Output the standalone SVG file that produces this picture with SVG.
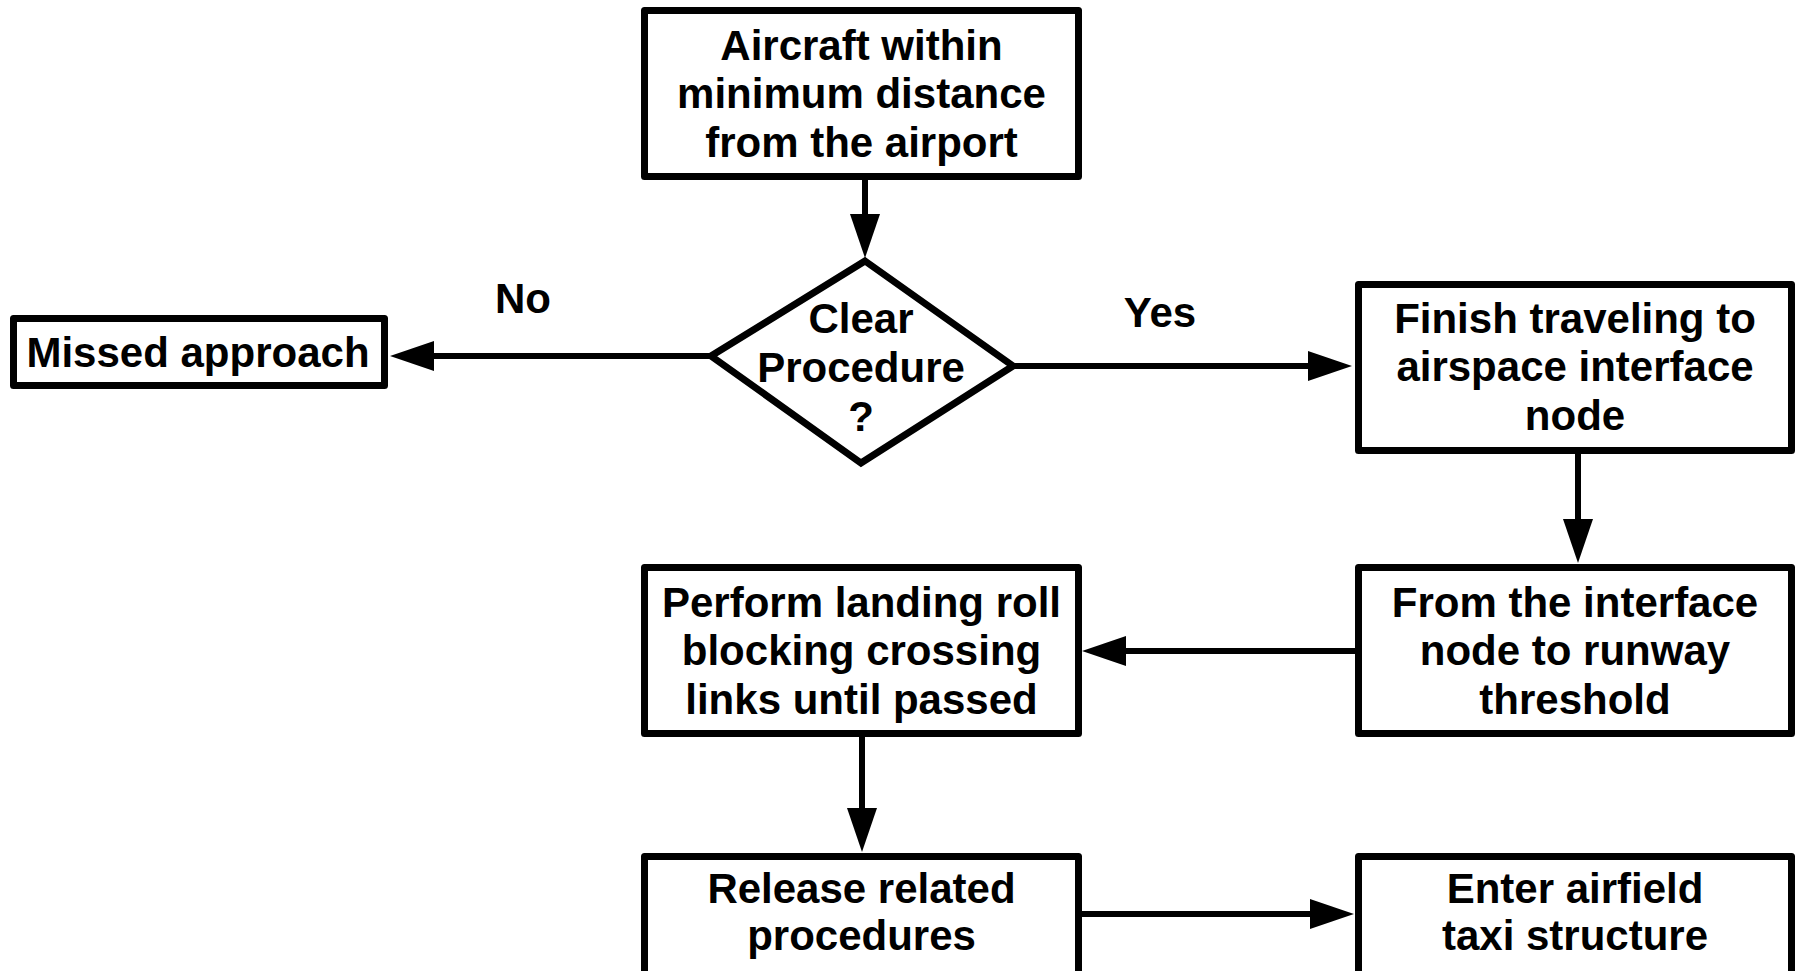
<svg xmlns="http://www.w3.org/2000/svg" width="1796" height="971" viewBox="0 0 1796 971">
<style>
.box{fill:#fff;stroke:#000;stroke-width:7;stroke-linejoin:round}
.dia{fill:#fff;stroke:#000;stroke-width:7;stroke-linejoin:miter}
.t{font-family:"Liberation Sans",Arial,sans-serif;font-weight:bold;font-size:42px;fill:#000;text-anchor:middle}
.c{fill:none;stroke:#000;stroke-width:6}
</style>
<defs>
<marker id="ah" markerUnits="userSpaceOnUse" markerWidth="46" markerHeight="32" refX="0" refY="15" orient="auto" overflow="visible">
<path d="M0,0 L44,15 L0,30 Z" fill="#000"/>
</marker>
</defs>
<rect width="1796" height="971" fill="#fff"/>
<g id="connectors">
<path class="c" d="M865,180 L865,214" marker-end="url(#ah)"/>
<path class="c" d="M710,356 L434,356" marker-end="url(#ah)"/>
<path class="c" d="M1014,366 L1308,366" marker-end="url(#ah)"/>
<path class="c" d="M1578,454 L1578,519" marker-end="url(#ah)"/>
<path class="c" d="M1355,651 L1126,651" marker-end="url(#ah)"/>
<path class="c" d="M862,737 L862,808" marker-end="url(#ah)"/>
<path class="c" d="M1082,914 L1310,914" marker-end="url(#ah)"/>
<text class="t" x="523" y="313">No</text>
<text class="t" x="1160" y="327">Yes</text>
</g>
<g id="start">
<rect class="box" x="644.5" y="10.5" width="434" height="166"/>
<text class="t" x="861.5" y="60">Aircraft within</text>
<text class="t" x="861.5" y="108">minimum distance</text>
<text class="t" x="861.5" y="157">from the airport</text>
</g>
<g id="decision">
<polygon class="dia" points="865,261 1013,366 861,463 711,356"/>
<text class="t" x="861" y="333">Clear</text>
<text class="t" x="861" y="382">Procedure</text>
<text class="t" x="861" y="431">?</text>
</g>
<g id="missed">
<rect class="box" x="13.5" y="318.5" width="371" height="67"/>
<text class="t" x="198" y="367">Missed approach</text>
</g>
<g id="finish">
<rect class="box" x="1358.5" y="284.5" width="433" height="166"/>
<text class="t" x="1575" y="333">Finish traveling to</text>
<text class="t" x="1575" y="381">airspace interface</text>
<text class="t" x="1575" y="430">node</text>
</g>
<g id="from">
<rect class="box" x="1358.5" y="567.5" width="433" height="166"/>
<text class="t" x="1575" y="617">From the interface</text>
<text class="t" x="1575" y="665">node to runway</text>
<text class="t" x="1575" y="714">threshold</text>
</g>
<g id="perform">
<rect class="box" x="644.5" y="567.5" width="434" height="166"/>
<text class="t" x="861.5" y="617">Perform landing roll</text>
<text class="t" x="861.5" y="665">blocking crossing</text>
<text class="t" x="861.5" y="714">links until passed</text>
</g>
<g id="release">
<rect class="box" x="644.5" y="856.5" width="434" height="166"/>
<text class="t" x="861.5" y="903">Release related</text>
<text class="t" x="861.5" y="950">procedures</text>
</g>
<g id="enter">
<rect class="box" x="1358.5" y="856.5" width="433" height="166"/>
<text class="t" x="1575" y="903">Enter airfield</text>
<text class="t" x="1575" y="950">taxi structure</text>
</g>
</svg>
